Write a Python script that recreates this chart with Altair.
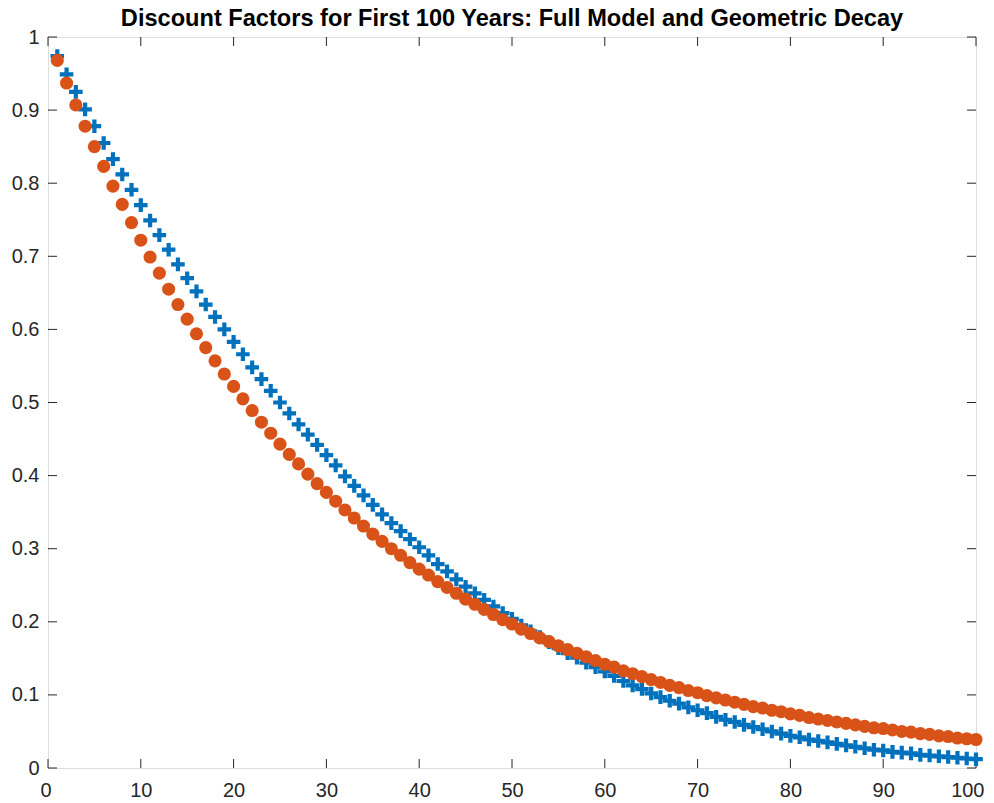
import altair as alt
import pandas as pd

years = list(range(1, 101))

full_model = [
    0.974, 0.949, 0.925, 0.901, 0.878, 0.855, 0.833, 0.812, 0.791, 0.770,
    0.749, 0.729, 0.709, 0.689, 0.670, 0.652, 0.634, 0.617, 0.600, 0.583,
    0.566, 0.548, 0.532, 0.516, 0.500, 0.485, 0.470, 0.456, 0.442, 0.428,
    0.414, 0.399, 0.386, 0.373, 0.360, 0.347, 0.335, 0.324, 0.313, 0.302,
    0.291, 0.279, 0.269, 0.258, 0.248, 0.239, 0.230, 0.221, 0.212, 0.204,
    0.195, 0.187, 0.179, 0.172, 0.164, 0.157, 0.151, 0.144, 0.138, 0.132,
    0.126, 0.119, 0.113, 0.108, 0.102, 0.097, 0.092, 0.088, 0.083, 0.079,
    0.075, 0.070, 0.066, 0.063, 0.059, 0.056, 0.053, 0.050, 0.047, 0.044,
    0.042, 0.039, 0.037, 0.035, 0.033, 0.031, 0.029, 0.027, 0.025, 0.024,
    0.022, 0.021, 0.020, 0.018, 0.017, 0.016, 0.015, 0.014, 0.013, 0.012,
]

geometric = [
    0.968, 0.937, 0.907, 0.878, 0.850, 0.823, 0.796, 0.771, 0.746, 0.722,
    0.699, 0.677, 0.655, 0.634, 0.614, 0.594, 0.575, 0.557, 0.539, 0.522,
    0.505, 0.489, 0.473, 0.458, 0.443, 0.429, 0.416, 0.402, 0.389, 0.377,
    0.365, 0.353, 0.342, 0.331, 0.320, 0.310, 0.300, 0.291, 0.281, 0.272,
    0.264, 0.255, 0.247, 0.239, 0.231, 0.224, 0.217, 0.210, 0.203, 0.197,
    0.190, 0.184, 0.178, 0.173, 0.167, 0.162, 0.157, 0.152, 0.147, 0.142,
    0.138, 0.133, 0.129, 0.125, 0.121, 0.117, 0.113, 0.110, 0.106, 0.103,
    0.099, 0.096, 0.093, 0.090, 0.087, 0.084, 0.082, 0.079, 0.077, 0.074,
    0.072, 0.069, 0.067, 0.065, 0.063, 0.061, 0.059, 0.057, 0.055, 0.054,
    0.052, 0.050, 0.049, 0.047, 0.046, 0.044, 0.043, 0.041, 0.040, 0.039,
]

x_ticks = [0, 10, 20, 30, 40, 50, 60, 70, 80, 90, 100]
y_ticks = [0, 0.1, 0.2, 0.3, 0.4, 0.5, 0.6, 0.7, 0.8, 0.9, 1]

title_text = "Discount Factors for First 100 Years: Full Model and Geometric Decay"

W, H = 928, 731
TICK = 9
FONT = "Liberation Sans"
AXC = "#262626"

df = pd.DataFrame({"year": years, "full": full_model, "geo": geometric})
xt = pd.DataFrame({"v": x_ticks})
yt = pd.DataFrame({"v": y_ticks})

xscale = alt.Scale(domain=[0, 100], nice=False, zero=False)
yscale = alt.Scale(domain=[0, 1], nice=False, zero=False)

xaxis = alt.Axis(values=x_ticks, ticks=False, domain=False, grid=False,
                 labelFontSize=20, labelFont=FONT, labelColor=AXC,
                 labelPadding=12, title=None, labelFlush=True, labelFlushOffset=8)
yaxis = alt.Axis(values=y_ticks, ticks=False, domain=False, grid=False,
                 labelFontSize=20, labelFont=FONT, labelColor=AXC,
                 labelPadding=9, title=None, format="~g", labelFlush=False)

plus_path = "M-1,-0.31H-0.31V-1H0.31V-0.31H1V0.31H0.31V1H-0.31V0.31H-1Z"

blue = alt.Chart(df).mark_point(
    shape=plus_path, filled=True, size=185, color="#0072BD", opacity=1, strokeWidth=0
).encode(
    x=alt.X("year:Q", scale=xscale, axis=xaxis),
    y=alt.Y("full:Q", scale=yscale, axis=yaxis),
)

orange = alt.Chart(df).mark_circle(
    size=172, color="#D95319", opacity=1
).encode(
    x=alt.X("year:Q", scale=xscale),
    y=alt.Y("geo:Q", scale=yscale),
)

tick_style = dict(color=AXC, strokeWidth=1)

bottom_ticks = alt.Chart(xt).mark_rule(**tick_style).encode(
    x=alt.X("v:Q", scale=xscale), y=alt.value(H), y2=alt.value(H - TICK))
top_ticks = alt.Chart(xt).mark_rule(**tick_style).encode(
    x=alt.X("v:Q", scale=xscale), y=alt.value(0), y2=alt.value(TICK))
left_ticks = alt.Chart(yt).mark_rule(**tick_style).encode(
    y=alt.Y("v:Q", scale=yscale), x=alt.value(0), x2=alt.value(TICK))
right_ticks = alt.Chart(yt).mark_rule(**tick_style).encode(
    y=alt.Y("v:Q", scale=yscale), x=alt.value(W - TICK), x2=alt.value(W))

chart = alt.layer(
    bottom_ticks, top_ticks, left_ticks, right_ticks, blue, orange
).properties(
    width=W, height=H,
    title=alt.TitleParams(title_text, fontSize=23.6, fontWeight="bold", font=FONT,
                          color="#000000", offset=5, dy=9, anchor="middle", frame="group"),
    autosize=alt.AutoSizeParams(type="none"),
    padding={"left": 40, "top": 29, "right": 10, "bottom": 32},
).configure_view(
    stroke=AXC, strokeWidth=1
).configure(background="white")

chart.save("out.html", embed_options={"renderer": "svg", "actions": False})
